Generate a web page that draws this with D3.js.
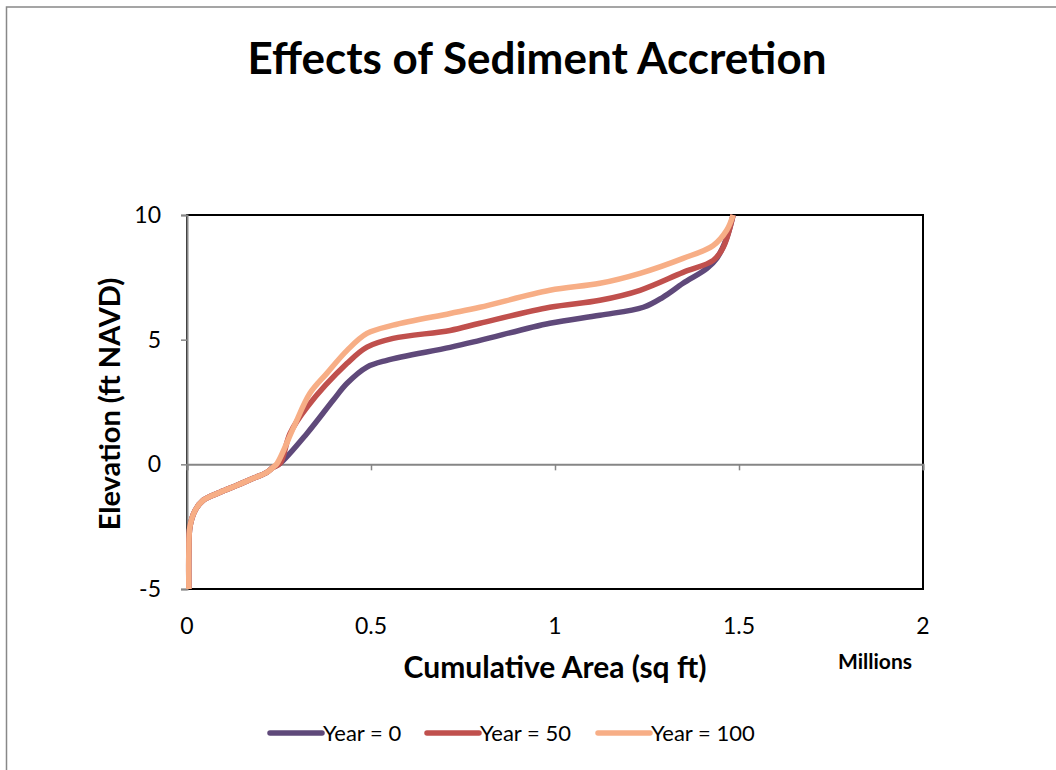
<!DOCTYPE html>
<html lang="en">
<head>
    <meta charset="utf8">
    <title>Effects of Sediment Accretion</title>
    <script src="https://d3js.org/d3.v7.min.js"></script>
    <style>
        body { margin: 0; background: #fff; }
        svg { display: block; }
        text { font-family: Lato, "Open Sans", sans-serif; fill: #000; }
    </style>
</head>
<body>
    <svg id="chart" width="1056" height="770"></svg>
    <script>
        // cumulative area (millions sq ft) vs elevation (ft NAVD)
        const baseArea = [0.005, 0.005, 0.008, 0.022, 0.044, 0.09, 0.136, 0.18, 0.217, 0.234];
        const baseElev = [-5, -3.5, -2.5, -1.85, -1.44, -1.12, -0.84, -0.56, -0.32, -0.12];

        const year0Area = [0.253, 0.326, 0.397, 0.435, 0.489, 0.543, 0.715, 0.796, 0.986, 1.122, 1.24, 1.293, 1.348, 1.413, 1.44, 1.467, 1.484];
        const year0Elev = [0.04, 1.24, 2.57, 3.25, 3.9, 4.17, 4.69, 4.97, 5.66, 5.98, 6.3, 6.7, 7.26, 7.86, 8.27, 9.1, 10];

        const year50Area = [0.253, 0.28, 0.326, 0.435, 0.489, 0.56, 0.715, 0.796, 0.986, 1.122, 1.231, 1.348, 1.43, 1.457, 1.484];
        const year50Elev = [0.04, 1.24, 2.29, 4.05, 4.7, 5.05, 5.37, 5.66, 6.3, 6.58, 6.98, 7.7, 8.18, 8.7, 10];

        const year100Area = [0.245, 0.29, 0.334, 0.38, 0.435, 0.489, 0.56, 0.715, 0.796, 0.986, 1.122, 1.231, 1.348, 1.43, 1.467, 1.484];
        const year100Elev = [0.04, 1.49, 2.85, 3.65, 4.57, 5.25, 5.58, 6.05, 6.3, 6.98, 7.26, 7.66, 8.26, 8.78, 9.4, 10];

        const seriesNames = ["Year = 0", "Year = 50", "Year = 100"];
        const seriesColors = ["#5F497A", "#C0504D", "#F7AE86"];
        const xTicks = [0, 0.5, 1, 1.5, 2];
        const yTicks = [-5, 0, 5, 10];

        const svg = d3.select("#chart");

        // outer chart border
        svg.append("rect")
           .attr("x", 6.5).attr("y", 7)
           .attr("width", 1100).attr("height", 800)
           .attr("fill", "none")
           .attr("stroke", "#888")
           .attr("stroke-width", 1.5);

        const plotL = 187, plotR = 923, plotT = 215, plotB = 589;
        const x = d3.scaleLinear().domain([0, 2]).range([plotL, plotR]);
        const y = d3.scaleLinear().domain([-5, 10]).range([plotB, plotT]);

        // plot area border
        svg.append("rect")
           .attr("x", plotL).attr("y", plotT)
           .attr("width", plotR - plotL).attr("height", plotB - plotT)
           .attr("fill", "none")
           .attr("stroke", "#000")
           .attr("stroke-width", 2);

        // y axis
        const yAxis = svg.append("g")
           .attr("transform", `translate(${plotL},0)`)
           .call(d3.axisLeft(y).tickValues(yTicks).tickSize(6).tickPadding(20).tickFormat(d => String(d)));
        yAxis.select(".domain").attr("stroke", "#868686").attr("stroke-width", 2);
        yAxis.selectAll(".tick line").attr("stroke", "#868686").attr("stroke-width", 1.5);
        yAxis.selectAll(".tick text").style("font-size", "23px").style("font-family", "Lato, sans-serif");

        // x axis crossing at y = 0
        const xAxis = svg.append("g")
           .attr("transform", `translate(0,${y(0)})`)
           .call(d3.axisBottom(x).tickValues(xTicks).tickSize(6).tickFormat(d => d));
        xAxis.select(".domain").attr("stroke", "#868686").attr("stroke-width", 2);
        xAxis.selectAll(".tick line").attr("stroke", "#868686").attr("stroke-width", 1.5);
        xAxis.selectAll(".tick text").remove();

        // x tick labels sit below the plot area
        svg.append("g").selectAll("text")
           .data(xTicks)
           .join("text")
           .attr("x", d => x(d))
           .attr("y", 634)
           .attr("text-anchor", "middle")
           .style("font-size", "23px")
           .text(d => d);

        const line = d3.line()
           .x(d => x(d[0]))
           .y(d => y(d[1]))
           .curve(d3.curveCatmullRom.alpha(0.5));

        const base = d3.zip(baseArea, baseElev);
        const series = [
            base.concat(d3.zip(year0Area, year0Elev)),
            base.concat(d3.zip(year50Area, year50Elev)),
            base.concat(d3.zip(year100Area, year100Elev))
        ];

        svg.append("g").selectAll("path")
           .data(series)
           .join("path")
           .attr("d", line)
           .attr("fill", "none")
           .attr("stroke", (d, i) => seriesColors[i])
           .attr("stroke-width", 5.5)
           .attr("stroke-linejoin", "round")
           .attr("stroke-linecap", "butt");

        // titles
        svg.append("text")
           .attr("x", 537).attr("y", 74)
           .attr("text-anchor", "middle")
           .style("font-size", "44px")
           .style("font-weight", "bold")
           .text("Effects of Sediment Accretion");

        svg.append("text")
           .attr("transform", "translate(120,404) rotate(-90)")
           .attr("text-anchor", "middle")
           .style("font-size", "29px")
           .style("font-weight", "bold")
           .text("Elevation (ft NAVD)");

        svg.append("text")
           .attr("x", 555).attr("y", 678)
           .attr("text-anchor", "middle")
           .style("font-size", "30px")
           .style("font-weight", "bold")
           .text("Cumulative Area (sq ft)");

        svg.append("text")
           .attr("x", 875).attr("y", 669)
           .attr("text-anchor", "middle")
           .style("font-size", "21px")
           .style("font-weight", "bold")
           .text("Millions");

        // legend
        const legendX = [270, 427, 598];
        const legend = svg.append("g").selectAll("g")
           .data(seriesNames)
           .join("g")
           .attr("transform", (d, i) => `translate(${legendX[i]},733)`);
        legend.append("line")
           .attr("x1", 0).attr("x2", 52)
           .attr("stroke", (d, i) => seriesColors[i])
           .attr("stroke-width", 5.5)
           .attr("stroke-linecap", "round");
        legend.append("text")
           .attr("x", 53).attr("y", 8)
           .style("font-size", "22px")
           .text(d => d);
    </script>
</body>
</html>
